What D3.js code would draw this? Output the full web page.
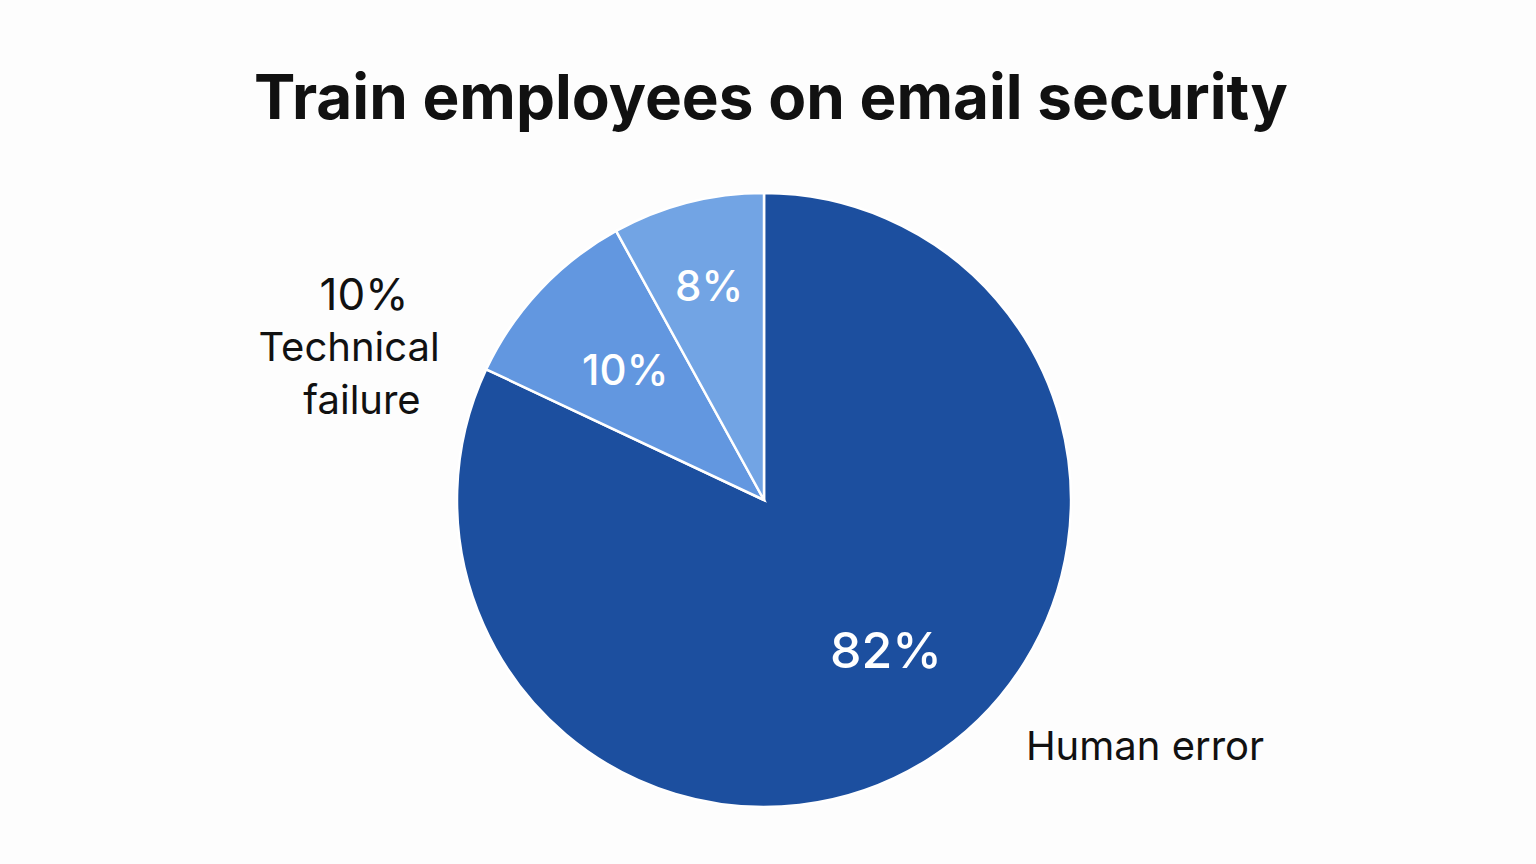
<!DOCTYPE html>
<html><head><meta charset="utf-8">
<script src="https://cdn.jsdelivr.net/npm/d3@7"></script>
<style>body{margin:0;background:#fdfdfd;}svg{display:block}</style>
</head><body>
<svg id="c" width="1536" height="864"></svg>
<script>
const categories = ["Human error", "Technical failure", "Other"];
const values = [82, 10, 8];
const valueLabels = ["82%", "10%", "8%"];
const colors = ["#1c4f9f", "#6297e0", "#72a4e4"];

const svg = d3.select("#c");
const W = 1536, H = 864;
svg.append("rect").attr("width", W).attr("height", H).attr("fill", "#fdfdfd");
svg.append("text").attr("x", 771).attr("y", 119).attr("text-anchor", "middle")
  .attr("font-family", "Inter, sans-serif").attr("font-weight", 700).attr("font-size", 62)
  .attr("fill", "#111").text("Train employees on email security");

const cx = 764, cy = 500, r = 307;
const g = svg.append("g").attr("transform", `translate(${cx},${cy})`);
const pie = d3.pie().sort(null).value(d => d)(values);
const arc = d3.arc().innerRadius(0).outerRadius(r);
g.selectAll("path").data(pie).join("path")
  .attr("d", arc).attr("fill", (d, i) => colors[i])
  .attr("stroke", "#fff").attr("stroke-width", 2.5);

const labelPos = [0.62, 0.62, 0.72];
g.selectAll("text.v").data(pie).join("text").attr("class", "v")
  .attr("transform", (d, i) => {
    const a = d3.arc().innerRadius(r * labelPos[i]).outerRadius(r * labelPos[i]);
    const c = a.centroid(d);
    if (i === 0) return `translate(122,150)`;
    return `translate(${c[0]},${c[1]})`;
  })
  .attr("text-anchor", "middle").attr("dominant-baseline", "central")
  .attr("font-family", "Inter, sans-serif").attr("font-size", (d, i) => i === 0 ? 50 : 42)
  .attr("font-weight", 500)
  .attr("fill", "#fff").text((d, i) => valueLabels[i]);

const outer = svg.append("g").attr("font-family", "Inter, sans-serif").attr("fill", "#111");
outer.append("text").attr("x", 364).attr("y", 310).attr("text-anchor", "middle").attr("font-size", 44).text(valueLabels[1]);
outer.append("text").attr("x", 349).attr("y", 361).attr("text-anchor", "middle").attr("font-size", 40).text("Technical");
outer.append("text").attr("x", 362).attr("y", 414).attr("text-anchor", "middle").attr("font-size", 40).text("failure");
outer.append("text").attr("x", 1145).attr("y", 760).attr("text-anchor", "middle").attr("font-size", 40).text(categories[0]);
</script>
</body></html>
